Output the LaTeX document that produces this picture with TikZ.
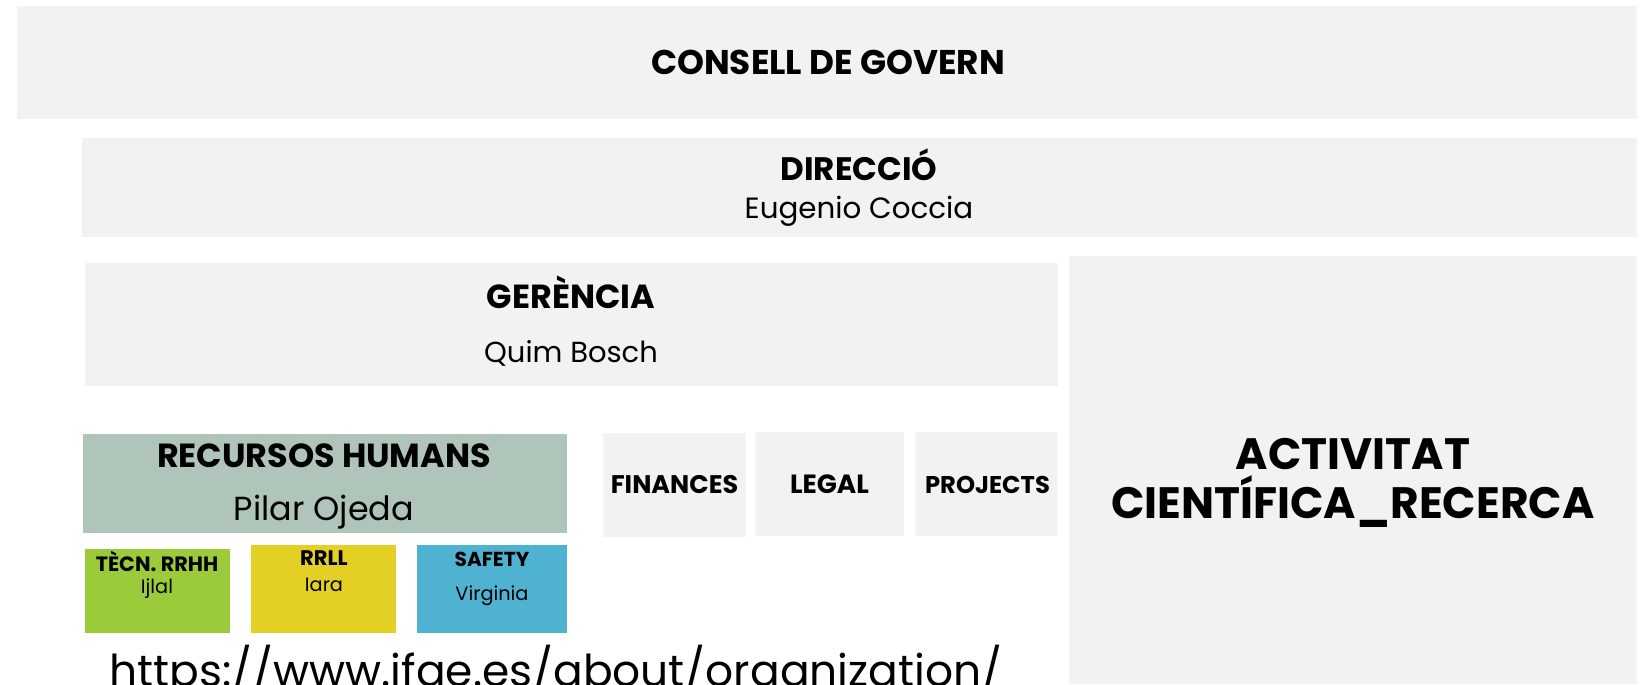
\documentclass[tikz,border=0pt]{standalone}
\usepackage{xcolor}
\usepackage{fontspec}
\setmainfont{Poppins}
\usepackage{tikz}
\usetikzlibrary{positioning}

\definecolor{boxgray}{HTML}{F2F2F2}
\definecolor{sage}{HTML}{AFC5B9}
\definecolor{leaf}{HTML}{9BCB3B}
\definecolor{mustard}{HTML}{E4D024}
\definecolor{skyblue}{HTML}{4EB2D0}

\tikzset{
  unit/.style={fill=boxgray, inner sep=0pt, anchor=north west},
  head/.style={anchor=base, inner sep=0pt, font=\bfseries\fontsize{#1}{#1}\selectfont},
  who/.style={anchor=base, inner sep=0pt, font=\fontsize{#1}{#1}\selectfont}
}

\begin{document}
\begin{tikzpicture}[x=0.02cm, y=-0.02cm]

    \useasboundingbox (0, 0) rectangle (1643, 684);

    % boxes
    \node[unit, minimum width=32.4cm, minimum height=2.26cm] (consell) at (17, 6) {};
    \node[unit, minimum width=31.1cm, minimum height=1.98cm] (direccio) at (82, 138) {};
    \node[unit, minimum width=19.46cm, minimum height=2.46cm] (gerencia) at (85, 263) {};
    \node[unit, minimum width=11.36cm, minimum height=8.56cm] (recerca) at (1069, 256) {};
    \node[unit, fill=sage, minimum width=9.68cm, minimum height=1.98cm] (rrhh) at (83, 434) {};
    \node[unit, minimum width=2.86cm, minimum height=2.08cm] (finances) at (603, 433) {};
    \node[unit, minimum width=2.98cm, minimum height=2.08cm] (legal) at (755, 432) {};
    \node[unit, minimum width=2.84cm, minimum height=2.08cm] (projects) at (915, 432) {};
    \node[unit, fill=leaf, minimum width=2.9cm, minimum height=1.68cm] (tecn) at (85, 549) {};
    \node[unit, fill=mustard, minimum width=2.9cm, minimum height=1.76cm] (rrll) at (251, 545) {};
    \node[unit, fill=skyblue, minimum width=3.0cm, minimum height=1.76cm] (safety) at (417, 545) {};

    % texts
    \node[head=19.5] (consell-t) at (828, 74) {CONSELL DE GOVERN};
    \node[head=18.5] (direccio-t) at (859, 180) {DIRECCIÓ};
    \node[who=16.7] (direccio-n) at (859, 218) {Eugenio Coccia};
    \node[head=19] (gerencia-t) at (571, 308) {GERÈNCIA};
    \node[who=16.5] (gerencia-n) at (571, 362) {Quim Bosch};
    \node[head=19] (rrhh-t) at (324, 467) {RECURSOS HUMANS};
    \node[who=19] (rrhh-n) at (324, 520) {Pilar Ojeda};
    \node[head=14.5] (finances-t) at (674.5, 493) {FINANCES};
    \node[head=15] (legal-t) at (829.5, 493) {LEGAL};
    \node[head=13.8] (projects-t) at (987.5, 493) {PROJECTS};
    \node[head=25] (recerca-t) at (1353, 469) {ACTIVITAT};
    \node[head=25] (recerca-u) at (1353, 518) {CIENTÍFICA\_RECERCA};
    \node[head=11.8] (tecn-t) at (157, 571) {TÈCN. RRHH};
    \node[who=11] (tecn-n) at (157, 593) {Ijlal};
    \node[head=12] (rrll-t) at (324, 565) {RRLL};
    \node[who=11] (rrll-n) at (324, 591) {Iara};
    \node[head=11.5] (safety-t) at (492, 566) {SAFETY};
    \node[who=11] (safety-n) at (492, 600) {Virginia};
    \node[who=25] (url) at (556, 686) {https://www.ifae.es/about/organization/};

\end{tikzpicture}
\end{document}
